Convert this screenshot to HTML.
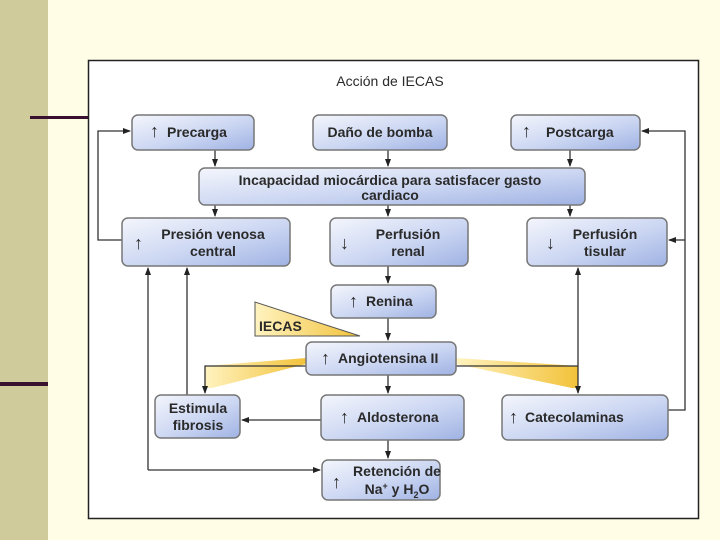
<!DOCTYPE html>
<html><head><meta charset="utf-8"><style>
html,body{margin:0;padding:0;width:720px;height:540px;overflow:hidden;background:#fffde6}
svg{display:block}
text{font-family:"Liberation Sans",Arial,sans-serif;font-weight:bold;font-size:14px;fill:#2a2a2a}
.ar{font-size:18px}
</style></head><body>
<svg width="720" height="540" viewBox="0 0 720 540" xmlns="http://www.w3.org/2000/svg">
<defs>
<linearGradient id="g" x1="0" y1="0" x2="1" y2="1">
<stop offset="0" stop-color="#f4f6fc"/><stop offset="0.55" stop-color="#cbd6f2"/><stop offset="1" stop-color="#9fb2e3"/>
</linearGradient>
<linearGradient id="yl" x1="0" y1="0" x2="1" y2="0">
<stop offset="0" stop-color="#fff3c0"/><stop offset="1" stop-color="#f2c23a"/>
</linearGradient>
<linearGradient id="yr" x1="1" y1="0" x2="0" y2="0">
<stop offset="0" stop-color="#f2c23a"/><stop offset="1" stop-color="#fff3c0"/>
</linearGradient>
<marker id="a" markerWidth="8" markerHeight="8" refX="7" refY="4" orient="auto" markerUnits="userSpaceOnUse">
<path d="M0,1 L8,4 L0,7 Z" fill="#222"/></marker>
</defs>
<rect x="0" y="0" width="48" height="540" fill="#cfcb9b"/>
<rect x="30" y="116" width="60" height="3" fill="#3a1030"/>
<rect x="0" y="382" width="48" height="4" fill="#3a1030"/>
<rect x="88.5" y="60.5" width="610" height="458" fill="#fff" stroke="#222" stroke-width="1.5"/>
<text x="390" y="86" text-anchor="middle" style="font-weight:normal" font-size="14">Acción de IECAS</text>

<polygon points="306,358 306,364 212,388 205,388 205,366" fill="url(#yl)"/>
<polygon points="456,358 456,364 572,388 578,388 578,366" fill="url(#yr)"/>
<polygon points="255,302 255,336 360,336" fill="url(#yl)" stroke="#555" stroke-width="1"/>
<text x="259" y="331" font-size="13">IECAS</text>

<g stroke="#333" stroke-width="1.3" fill="none">
<path d="M122,240 H98 V131 H130" marker-end="url(#a)"/>
<path d="M668,410 H685 V131 H642" marker-end="url(#a)"/>
<path d="M685,240 H669" marker-end="url(#a)"/>
<path d="M215,150 V166" marker-end="url(#a)"/>
<path d="M388,150 V166" marker-end="url(#a)"/>
<path d="M570,150 V166" marker-end="url(#a)"/>
<path d="M215,205 V216" marker-end="url(#a)"/>
<path d="M388,205 V216" marker-end="url(#a)"/>
<path d="M570,205 V216" marker-end="url(#a)"/>
<path d="M388,266 V283" marker-end="url(#a)"/>
<path d="M388,318 V340" marker-end="url(#a)"/>
<path d="M388,375 V393" marker-end="url(#a)"/>
<path d="M388,440 V458" marker-end="url(#a)"/>
<path d="M321,420 H242" marker-end="url(#a)"/>
<path d="M187,395 V268" marker-end="url(#a)"/>
<path d="M148,470 V268" marker-end="url(#a)"/>
<path d="M148,470 H320" marker-end="url(#a)"/>
<path d="M578,366 V268" marker-end="url(#a)"/>
<path d="M578,366 V393" marker-end="url(#a)"/>
<path d="M306,366 H205 V393" marker-end="url(#a)"/>
<path d="M456,366 H578"/>
</g>

<g stroke="#777" stroke-width="1.5" fill="url(#g)">
<rect x="132" y="115" width="122" height="35" rx="6"/>
<rect x="313" y="115" width="134" height="35" rx="6"/>
<rect x="511" y="115" width="129" height="35" rx="6"/>
<rect x="199" y="168" width="386" height="37" rx="6"/>
<rect x="122" y="218" width="168" height="48" rx="6"/>
<rect x="330" y="218" width="138" height="48" rx="6"/>
<rect x="527" y="218" width="140" height="48" rx="6"/>
<rect x="331" y="285" width="105" height="33" rx="6"/>
<rect x="306" y="342" width="150" height="33" rx="6"/>
<rect x="155" y="395" width="85" height="43" rx="6"/>
<rect x="321" y="395" width="143" height="45" rx="6"/>
<rect x="502" y="395" width="166" height="45" rx="6"/>
<rect x="322" y="460" width="118" height="40" rx="6"/>
</g>

<text x="150" y="137" class="ar" font-size="16">↑</text><text x="167" y="137">Precarga</text>
<text x="380" y="137" text-anchor="middle">Daño de bomba</text>
<text x="522" y="137" class="ar">↑</text><text x="546" y="137">Postcarga</text>
<text x="390" y="185" text-anchor="middle">Incapacidad miocárdica para satisfacer gasto</text>
<text x="390" y="200" text-anchor="middle">cardiaco</text>
<text x="134" y="249" class="ar">↑</text>
<text x="213" y="239" text-anchor="middle">Presión venosa</text>
<text x="213" y="256" text-anchor="middle">central</text>
<text x="340" y="249" class="ar">↓</text>
<text x="408" y="239" text-anchor="middle">Perfusión</text>
<text x="408" y="256" text-anchor="middle">renal</text>
<text x="546" y="249" class="ar">↓</text>
<text x="605" y="239" text-anchor="middle">Perfusión</text>
<text x="605" y="256" text-anchor="middle">tisular</text>
<text x="349" y="307" class="ar">↑</text><text x="366" y="306">Renina</text>
<text x="321" y="364" class="ar">↑</text><text x="338" y="363">Angiotensina II</text>
<text x="198" y="413" text-anchor="middle">Estimula</text>
<text x="198" y="430" text-anchor="middle">fibrosis</text>
<text x="340" y="423" class="ar">↑</text><text x="357" y="422">Aldosterona</text>
<text x="509" y="423" class="ar">↑</text><text x="525" y="422">Catecolaminas</text>
<text x="332" y="488" class="ar">↑</text>
<text x="397" y="476" text-anchor="middle" font-size="13.5">Retención de</text>
<text x="397" y="494" text-anchor="middle" font-size="13.5">Na<tspan font-size="9" dy="-5">+</tspan><tspan dy="5"> y H</tspan><tspan font-size="9" dy="4">2</tspan><tspan dy="-4">O</tspan></text>
</svg>
</body></html>
